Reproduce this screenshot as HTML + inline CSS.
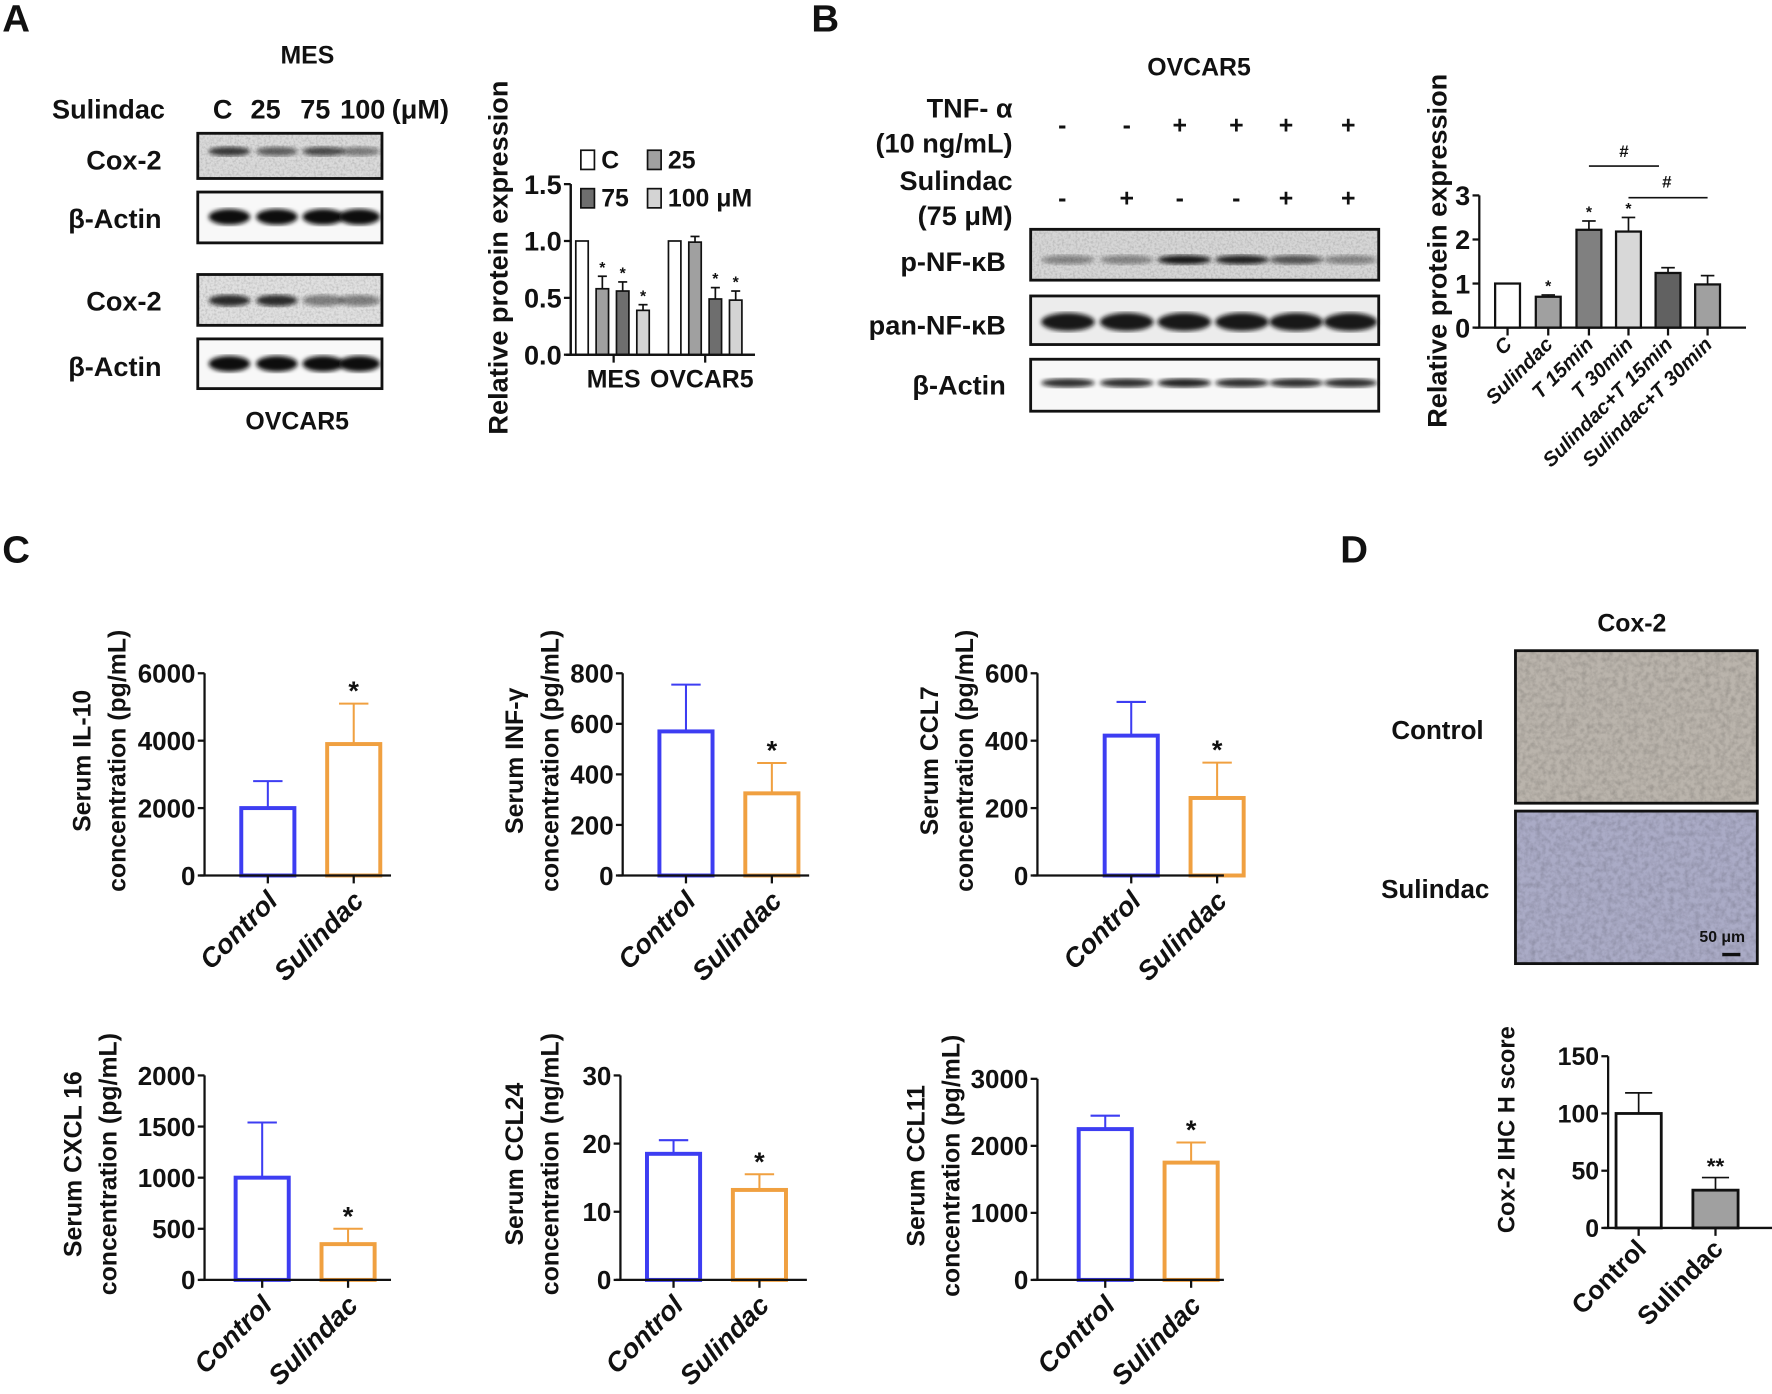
<!DOCTYPE html>
<html><head><meta charset="utf-8">
<style>
html,body{margin:0;padding:0;background:#fff;}
svg{display:block;font-family:"Liberation Sans",Arial,sans-serif;font-weight:bold;}
</style></head>
<body>
<svg id="fig" width="1772" height="1394" viewBox="0 0 1568 1234" preserveAspectRatio="none" xmlns="http://www.w3.org/2000/svg">
<defs>
<filter id="blur2"><feGaussianBlur stdDeviation="2"/></filter>
<filter id="noise" x="0" y="0" width="100%" height="100%">
<feTurbulence type="fractalNoise" baseFrequency="0.22" numOctaves="3" seed="4"/>
<feColorMatrix type="matrix" values="0 0 0 0 0  0 0 0 0 0  0 0 0 0 0  0 0 0 -1.4 0.9"/>
</filter>
<filter id="noise2" x="0" y="0" width="100%" height="100%">
<feTurbulence type="fractalNoise" baseFrequency="0.5" numOctaves="2" seed="9"/>
<feColorMatrix type="matrix" values="0 0 0 0 0  0 0 0 0 0  0 0 0 0 0  0 0 0 -1 0.6"/>
</filter>
</defs>
<g id="root"></g>
</svg>
<script>
// ===== Data =====
// Panel A chart
const aGroups = ["MES", "OVCAR5"];
const aSeries = ["C", "25", "75", "100 μM"];
const aMES = [1.0, 0.58, 0.56, 0.39];
const aMESErr = [0, 0.11, 0.08, 0.05];
const aOV = [1.0, 0.99, 0.49, 0.48];
const aOVErr = [0, 0.05, 0.10, 0.08];
const aTicks = ["0.0", "0.5", "1.0", "1.5"];
// Panel B chart
const bCats = ["C", "Sulindac", "T 15min", "T 30min", "Sulindac+T 15min", "Sulindac+T 30min"];
const bVals = [1.0, 0.70, 2.22, 2.18, 1.24, 0.98];
const bErrs = [0, 0.04, 0.20, 0.32, 0.12, 0.20];
const bTicks = [0, 1, 2, 3];
const bStars = ["", "*", "*", "*", "", ""];
// Panel C charts
const cCats = ["Control", "Sulindac"];
const il10Vals = [2000, 3900];   const il10Errs = [800, 1200];   const il10Ticks = [0, 2000, 4000, 6000];
const infVals = [570, 325];      const infErrs = [185, 120];     const infTicks = [0, 200, 400, 600, 800];
const ccl7Vals = [415, 230];     const ccl7Errs = [100, 105];    const ccl7Ticks = [0, 200, 400, 600];
const cxcl16Vals = [1000, 350];  const cxcl16Errs = [540, 150];  const cxcl16Ticks = [0, 500, 1000, 1500, 2000];
const ccl24Vals = [18.5, 13.2];  const ccl24Errs = [2.0, 2.3];   const ccl24Ticks = [0, 10, 20, 30];
const ccl11Vals = [2250, 1750];  const ccl11Errs = [200, 300];   const ccl11Ticks = [0, 1000, 2000, 3000];
// Panel D chart
const dVals = [100, 33];  const dErrs = [18, 11];  const dTicks = [0, 50, 100, 150];

const NS = "http://www.w3.org/2000/svg";
const root = document.getElementById("root");
function el(tag, attrs, parent, text){
  const e = document.createElementNS(NS, tag);
  for (const k in attrs) e.setAttribute(k, attrs[k]);
  if (text !== undefined) e.textContent = text;
  (parent || root).appendChild(e);
  return e;
}
function txt(x, y, s, size, anchor, parent, extra){
  const a = Object.assign({x:x, y:y, "font-size":size, "text-anchor":anchor||"start", fill:"#111"}, extra||{});
  return el("text", a, parent, s);
}

// ===== Generic bar chart =====
function barChart(o){
  const g = el("g", {});
  
  
  const y = v => o.yBot - (v - o.min) / (o.max - o.min) * (o.yBot - o.yTop);
  o.vals.forEach((v, i) => {
    const cx = o.centers[i];
    const col = o.colors[i];
    const ey = y(v + o.errs[i]);
    if (o.errs[i] > 0) {
      const l = el("line", {x1:cx, x2:cx, y1:y(v), y2:ey, stroke:o.errColor?o.errColor[i]:"#111", "stroke-width":o.errW||1.5}, g);
      
      
      el("line", {x1:cx-o.capW, x2:cx+o.capW, y1:ey, y2:ey, stroke:o.errColor?o.errColor[i]:"#111", "stroke-width":o.errW||1.5}, g);
    }
    const r = el("rect", {x:cx - o.barW/2, y:y(v), width:o.barW, height:o.yBot - y(v), fill:o.fills[i], stroke:col, "stroke-width":o.sw}, g);
    
    
    if (o.stars && o.stars[i]) {
      const s = txt(cx, ey - 3, o.stars[i], o.starSize, "middle", g);
      
      
    }
  });
  const ya = el("line", {x1:o.x0, x2:o.x0, y1:o.yTop, y2:o.yBot, stroke:"#111", "stroke-width":2}, g);
  
  
  const xa = el("line", {x1:o.x0 - 4, x2:o.xEnd, y1:o.yBot, y2:o.yBot, stroke:"#111", "stroke-width":2}, g);
  
  
  o.ticks.forEach((t, i) => {
    const v = o.tickVals ? o.tickVals[i] : t;
    el("line", {x1:o.x0 - 6, x2:o.x0, y1:y(v), y2:y(v), stroke:"#111", "stroke-width":2}, g);
    const tl = txt(o.x0 - 8, y(v) + o.tickSize*0.36, String(t), o.tickSize, "end", g, o.tickExtra||{});
    
    
  });
  if (o.xTicks) o.centers.forEach(cx => el("line", {x1:cx, x2:cx, y1:o.yBot, y2:o.yBot + 7, stroke:"#111", "stroke-width":2}, g));
  if (o.cats) o.cats.forEach((c, i) => {
    const cx = o.centers[i] + (o.lblDx||6), cy = o.yBot + (o.lblDy||18);
    const t = txt(cx, cy, c, o.lblSize, "end", g, {transform:"rotate(-45 " + cx + " " + cy + ")", "font-style":o.italic?"italic":"normal"});
    
    
  });
  if (o.title) o.title.forEach((line, i) => {
    const tx = o.titleX[i], ty = o.titleY;
    const t = txt(tx, ty, line, o.titleSize, "middle", g, {transform:"rotate(-90 " + tx + " " + ty + ")"});
    
    
  });
  return {g, y};
}

// ===== Panel letters =====
[["A",2,28],["B",718,28],["C",2,498],["D",1186,498]].forEach(p => {
  const t = txt(p[1], p[2], p[0], 34, "start");
  
  
});

// ===== Western blot helper =====
function blot(x, y, w, h, bg, lanes, intensities, bandY, bandH, name, noisy){
  const g = el("g", {});
  
  
  el("rect", {x:x, y:y, width:w, height:h, fill:bg}, g);
  if (noisy) el("rect", {x:x, y:y, width:w, height:h, filter:"url(#noise2)", opacity:0.3}, g);
  lanes.forEach((lx, i) => {
    el("ellipse", {cx:lx, cy:y + bandY, rx:(w/lanes.length)/2 - 2, ry:bandH, fill:"#111", opacity:intensities[i], filter:"url(#blur2)"}, g);
  });
  el("rect", {x:x, y:y, width:w, height:h, fill:"none", stroke:"#111", "stroke-width":2.5}, g);
}

// Panel A blots
let t;
t = txt(272, 56, "MES", 22, "middle");  
t = txt(46, 105, "Sulindac", 24, "start");  
[["C",197],["25",235],["75",279],["100",321],["(μM)",372]].forEach(d => {
  t = txt(d[1], 105, d[0], 24, "middle");  
});
const aLanes = [203, 245, 286, 318];
blot(175, 118, 163, 40, "#dadada", aLanes, [0.8,0.6,0.7,0.45], 16, 4, "blot-mes-cox2", true);
blot(175, 170, 163, 45, "#f8f8f8", aLanes, [1,1,1,1], 22, 7, "blot-mes-actin", false);
blot(175, 243, 163, 45, "#e0e0e0", aLanes, [0.85,0.85,0.45,0.45], 23, 5, "blot-ovcar5-cox2", true);
blot(175, 300, 163, 44, "#f8f8f8", aLanes, [1,1,1,1], 22, 7, "blot-ovcar5-actin", false);
[["Cox-2",150],["β-Actin",202],["Cox-2",275],["β-Actin",333]].forEach(r => {
  t = txt(143, r[1], r[0], 24, "end");  
});
t = txt(263, 380, "OVCAR5", 22, "middle");  

// Panel A chart
const aFill = ["#ffffff", "#a0a0a0", "#6e6e6e", "#d4d4d4"];
const aCenters = [[515, 533, 551, 569], [597, 615, 633, 651]];
[aMES, aOV].forEach((vals, gi) => {
  const errs = gi === 0 ? aMESErr : aOVErr;
  barChart({name: "chart-a-" + aGroups[gi].toLowerCase(), x0:505, xEnd:668, yTop:163, yBot:314, min:0, max:1.5,
    ticks: gi === 0 ? aTicks : [], tickVals:[0,0.5,1.0,1.5], tickSize:24, tickExtra:{},
    vals: vals, errs: errs, centers: aCenters[gi], barW:11, fills: aFill, colors:["#111","#111","#111","#111"], sw:1.5, capW:4,
    stars: vals.map((v, i) => errs[i] > 0 && v < 0.7 ? "*" : ""), starSize:14});
});
aGroups.forEach((gname, i) => {
  const cx = i === 0 ? 543 : 624;
  el("line", {x1:cx, x2:cx, y1:314, y2:321, stroke:"#111", "stroke-width":2});
  t = txt(i === 0 ? 543 : 621, 343, gname, 22, "middle");  
});
t = txt(449, 228, "Relative protein expression", 24, "middle", root, {transform:"rotate(-90 449 228)"});
 
aSeries.forEach((s, i) => {
  const lx = i % 2 === 0 ? 514 : 573, ly = i < 2 ? 133 : 167;
  const r = el("rect", {x:lx, y:ly, width:12, height:17, fill:aFill[i], stroke:"#111", "stroke-width":1.5});
   
  t = txt(lx + 18, ly + 16, s, 22, "start");  
});

// Panel B blots
t = txt(1061, 67, "OVCAR5", 22, "middle");  
[["TNF- α",104],["(10 ng/mL)",135],["Sulindac",168],["(75 μM)",199]].forEach(r => {
  t = txt(896, r[1], r[0], 24, "end");  
});
const bLaneX = [940, 997, 1044, 1094, 1138, 1193];
const tnfSigns = ["-","-","+","+","+","+"];
const sulSigns = ["-","+","-","-","+","+"];
bLaneX.forEach((x, i) => {
  t = txt(x, 118, tnfSigns[i], 22, "middle");  
  t = txt(x, 183, sulSigns[i], 22, "middle");  
});
const bLanes = [945, 997, 1048, 1099, 1147, 1195];
blot(912, 203, 308, 45, "#d6d6d6", bLanes, [0.4,0.4,0.95,0.9,0.65,0.4], 27, 4, "blot-p-nfkb", true);
blot(912, 262, 308, 43, "#ececec", bLanes, [0.95,0.95,0.95,0.95,0.95,0.95], 23, 8, "blot-pan-nfkb", false);
blot(912, 318, 308, 46, "#f8f8f8", bLanes, [0.85,0.85,0.9,0.85,0.85,0.85], 21, 4, "blot-b-actin", false);
[["p-NF-κB",240],["pan-NF-κB",296],["β-Actin",349]].forEach(r => {
  t = txt(890, r[1], r[0], 24, "end");  
});

// Panel B chart
barChart({name:"chart-b", x0:1309, xEnd:1545, yTop:173, yBot:290, min:0, max:3, ticks:bTicks, tickSize:24,
  vals:bVals, errs:bErrs, centers:[1334,1370,1406,1441,1476,1511], barW:22,
  fills:["#ffffff","#a0a0a0","#808080","#d8d8d8","#616161","#a0a0a0"], colors:["#111","#111","#111","#111","#111","#111"], sw:2, capW:6,
  stars:bStars, starSize:14, xTicks:true, cats:bCats, lblSize:18, lblDx:5, lblDy:16, italic:true});
el("line", {x1:1406, x2:1468, y1:147, y2:147, stroke:"#111", "stroke-width":1.5});
el("line", {x1:1441, x2:1511, y1:175, y2:175, stroke:"#111", "stroke-width":1.5});
t = txt(1437, 139, "#", 15, "middle");  
t = txt(1475, 166, "#", 15, "middle");  
t = txt(1280, 222, "Relative protein expression", 24, "middle", root, {transform:"rotate(-90 1280 222)"});
 

// Panel C charts
const blue = "#3d3df2", orange = "#f0a040";
function cChart(name, x0, yTop, yBot, ticks, vals, errs, c0, title, tX){
  barChart({name:name, x0:x0, xEnd:x0 + 165, yTop:yTop, yBot:yBot, min:0, max:ticks[ticks.length-1], ticks:ticks, tickSize:23,
    vals:vals, errs:errs, centers:[c0, c0 + 76], barW:47, fills:["#fff","#fff"], colors:[blue, orange], sw:3.5, capW:13,
    errColor:[blue, orange], errW:1.8, stars:["","*"], starSize:24, xTicks:true, cats:cCats, lblSize:24, lblDx:10, lblDy:24, italic:true,
    title:title, titleX:tX, titleY:(yTop + yBot)/2 - 12, titleSize:22});
}
cChart("chart-il10", 181, 596, 775, il10Ticks, il10Vals, il10Errs, 237, ["Serum IL-10","concentration (pg/mL)"], [80,111]);
cChart("chart-inf-gamma", 551, 596, 775, infTicks, infVals, infErrs, 607, ["Serum INF-γ","concentration (pg/mL)"], [463,494]);
cChart("chart-ccl7", 918, 596, 775, ccl7Ticks, ccl7Vals, ccl7Errs, 1001, ["Serum CCL7","concentration (pg/mL)"], [830,861]);
cChart("chart-cxcl16", 181, 952, 1133, cxcl16Ticks, cxcl16Vals, cxcl16Errs, 232, ["Serum CXCL 16","concentration (pg/mL)"], [72,103]);
cChart("chart-ccl24", 549, 952, 1133, ccl24Ticks, ccl24Vals, ccl24Errs, 596, ["Serum CCL24","concentration (ng/mL)"], [463,494]);
cChart("chart-ccl11", 918, 955, 1133, ccl11Ticks, ccl11Vals, ccl11Errs, 978, ["Serum CCL11","concentration (pg/mL)"], [818,849]);

// Panel D images
t = txt(1444, 559, "Cox-2", 22, "middle");  
function ihc(y, base, name){
  const g = el("g", {});
  
  
  el("rect", {x:1341, y:y, width:214, height:135, fill:base}, g);
  el("rect", {x:1341, y:y, width:214, height:135, filter:"url(#noise)", opacity:0.2}, g);
  el("rect", {x:1341, y:y, width:214, height:135, fill:"none", stroke:"#111", "stroke-width":2.5}, g);
}
ihc(576, "#bab4ac", "ihc-control-image");
ihc(718, "#aaabc6", "ihc-sulindac-image");
t = txt(1272, 654, "Control", 23, "middle");  
t = txt(1270, 795, "Sulindac", 23, "middle");  
t = txt(1524, 834, "50 μm", 14, "middle");  
const sb = el("line", {x1:1524, x2:1540, y1:845, y2:845, stroke:"#111", "stroke-width":3});
 

// Panel D chart
barChart({name:"chart-d", x0:1423, xEnd:1568, yTop:935, yBot:1087, min:0, max:150, ticks:dTicks, tickSize:22,
  vals:dVals, errs:dErrs, centers:[1450, 1518], barW:40, fills:["#fff","#a0a0a0"], colors:["#111","#111"], sw:2.5, capW:12,
  stars:["","**"], starSize:20, xTicks:true, cats:cCats, lblSize:23, lblDx:8, lblDy:20, italic:false,
  title:["Cox-2 IHC H score"], titleX:[1340], titleY:1000, titleSize:21});
</script>
</body></html>
